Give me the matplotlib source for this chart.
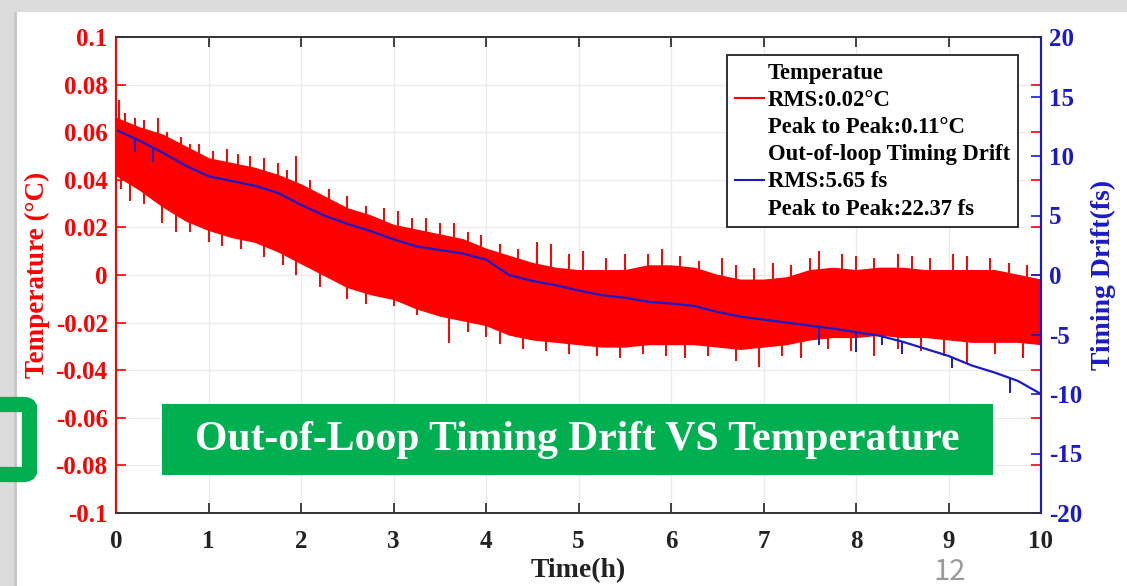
import numpy as np
import matplotlib.pyplot as plt
from matplotlib.lines import Line2D
from matplotlib.patches import Rectangle, FancyBboxPatch

plt.rcParams['font.family'] = ['Liberation Serif', 'DejaVu Serif']
plt.rcParams['font.weight'] = 'bold'
plt.rcParams['axes.unicode_minus'] = False

# time grid (h), read every 0.25 h
time_h = [0, 0.25, 0.5, 0.75, 1, 1.25, 1.5, 1.75, 2, 2.25, 2.5, 2.75, 3, 3.25,
          3.5, 3.75, 4, 4.25, 4.5, 4.75, 5, 5.25, 5.5, 5.75, 6, 6.25, 6.5, 6.75,
          7, 7.25, 7.5, 7.75, 8, 8.25, 8.5, 8.75, 9, 9.25, 9.5, 9.75, 10]

# temperature noise band (upper / lower edge, degC)
temp_upper = [0.066, 0.062, 0.059, 0.054, 0.049, 0.047, 0.045, 0.042, 0.038, 0.033,
              0.028, 0.025, 0.021, 0.019, 0.017, 0.015, 0.011, 0.008, 0.005, 0.003,
              0.002, 0.002, 0.002, 0.004, 0.004, 0.003, 0.000, -0.002, -0.002, -0.001,
              0.002, 0.003, 0.002, 0.003, 0.003, 0.002, 0.002, 0.002, 0.002, 0.000, -0.002]
temp_lower = [0.042, 0.036, 0.029, 0.023, 0.019, 0.016, 0.014, 0.010, 0.005, 0.000,
              -0.005, -0.008, -0.010, -0.014, -0.017, -0.019, -0.021, -0.025, -0.027, -0.028,
              -0.029, -0.030, -0.030, -0.029, -0.029, -0.029, -0.030, -0.031, -0.030, -0.029,
              -0.027, -0.026, -0.026, -0.025, -0.026, -0.026, -0.027, -0.028, -0.028, -0.028, -0.029]

# visible spikes of the temperature trace (time h, tip degC)
spike_up_t = [0.03, 0.1, 0.2, 0.3, 0.45, 0.55, 0.7, 0.8, 0.9, 1.05, 1.2, 1.32, 1.45, 1.6,
              1.75, 1.85, 1.95, 2.1, 2.3, 2.5, 2.7, 2.9, 3.05, 3.2, 3.35, 3.5, 3.65, 3.8,
              3.95, 4.15, 4.35, 4.55, 4.7, 4.9, 5.05, 5.3, 5.5, 5.75, 5.9, 6.1, 6.3, 6.55,
              6.7, 6.9, 7.1, 7.3, 7.5, 7.6, 7.85, 8.0, 8.2, 8.45, 8.6, 8.8, 9.05, 9.2,
              9.45, 9.65, 9.85]
spike_up_v = [0.0735, 0.068, 0.066, 0.065, 0.066, 0.060, 0.058, 0.055, 0.055, 0.052, 0.053,
              0.051, 0.050, 0.049, 0.047, 0.044, 0.050, 0.040, 0.036, 0.033, 0.029, 0.028,
              0.027, 0.024, 0.024, 0.022, 0.022, 0.018, 0.017, 0.013, 0.011, 0.014, 0.013,
              0.009, 0.010, 0.007, 0.009, 0.009, 0.011, 0.008, 0.006, 0.007, 0.004, 0.003,
              0.005, 0.004, 0.007, 0.010, 0.009, 0.008, 0.007, 0.009, 0.008, 0.007, 0.009,
              0.008, 0.007, 0.005, 0.004]
spike_dn_t = [0.05, 0.15, 0.3, 0.5, 0.65, 0.8, 1.0, 1.15, 1.35, 1.6, 1.8, 1.95, 2.2, 2.5,
              2.7, 3.0, 3.25, 3.6, 3.8, 4.0, 4.15, 4.4, 4.65, 4.9, 5.2, 5.45, 5.7, 5.95,
              6.15, 6.4, 6.7, 6.95, 7.2, 7.4, 7.7, 7.95, 8.2, 8.45, 8.7, 8.95, 9.2, 9.5, 9.8]
spike_dn_v = [0.036, 0.031, 0.030, 0.022, 0.018, 0.018, 0.014, 0.012, 0.011, 0.0075, 0.004,
              0.000, -0.005, -0.010, -0.012, -0.013, -0.017, -0.0285, -0.024, -0.026, -0.029,
              -0.031, -0.032, -0.033, -0.034, -0.035, -0.033, -0.034, -0.035, -0.034, -0.036,
              -0.0385, -0.034, -0.035, -0.031, -0.032, -0.034, -0.031, -0.032, -0.034, -0.037,
              -0.033, -0.035]

# out-of-loop timing drift (fs)
drift_fs = [12.2, 11.3, 10.3, 9.2, 8.3, 7.9, 7.5, 6.9, 5.9, 5.0, 4.3, 3.7, 3.0, 2.4,
            2.1, 1.8, 1.3, 0.0, -0.5, -0.85, -1.3, -1.7, -1.9, -2.25, -2.4, -2.6, -3.1, -3.5,
            -3.75, -4.0, -4.25, -4.5, -4.8, -5.1, -5.6, -6.2, -6.8, -7.6, -8.2, -8.9, -10.0]
drift_spike_t = [0.2, 0.4, 7.6, 8.0, 8.28, 8.5, 9.04, 9.67]
drift_spike_v = [10.3, 9.5, -5.9, -6.5, -5.9, -6.6, -7.8, -9.9]

red = '#ff0000'
blue = '#1a1ac8'

fig = plt.figure(figsize=(11.27, 5.86), dpi=100)
fig.patch.set_facecolor('#dcdcdc')
fig.add_artist(Rectangle((17 / 1127, 0), 1, 1 - 12 / 586, transform=fig.transFigure,
                         facecolor='white', edgecolor='none', zorder=-2))
fig.add_artist(Rectangle((14 / 1127, 0), 3 / 1127, 1 - 12 / 586, transform=fig.transFigure,
                         facecolor='#c8c8c8', edgecolor='none', zorder=-2))

ax = fig.add_axes([116 / 1127, 73 / 586, 925 / 1127, 476 / 586])
ax2 = ax.twinx()

ax.fill_between(time_h, temp_lower, temp_upper, color=red, lw=1.0, zorder=2)
ax.vlines(spike_up_t, np.interp(spike_up_t, time_h, temp_upper) - 0.003, spike_up_v,
          color=red, lw=1.4, zorder=2)
ax.vlines(spike_dn_t, spike_dn_v, np.interp(spike_dn_t, time_h, temp_lower) + 0.003,
          color=red, lw=1.4, zorder=2)

ax2.plot(time_h, drift_fs, color=blue, lw=1.6)
ax2.vlines(drift_spike_t, drift_spike_v, np.interp(drift_spike_t, time_h, drift_fs),
           color=blue, lw=1.4)

ax.set_xlim(0, 10)
ax.set_ylim(-0.1, 0.1)
ax2.set_ylim(-20, 20)
ax.set_xticks(range(0, 11))
ax.set_yticks([-0.1, -0.08, -0.06, -0.04, -0.02, 0, 0.02, 0.04, 0.06, 0.08, 0.1])
ax.set_yticklabels(['-0.1', '-0.08', '-0.06', '-0.04', '-0.02', '0', '0.02', '0.04',
                    '0.06', '0.08', '0.1'])
ax2.set_yticks(range(-20, 21, 5))

ax.grid(True, color='#efe9e9', lw=0.9)
ax.set_axisbelow(True)

ax.tick_params(axis='x', direction='in', top=True, length=7, width=1.2, colors='#222222',
               labelsize=18, pad=12)
ax.tick_params(axis='y', direction='in', right=True, length=7, width=1.2, colors=red,
               labelsize=18, pad=6)
ax2.tick_params(axis='y', direction='in', length=7, width=1.2, colors=blue,
                labelsize=18, pad=6)

for a in (ax, ax2):
    a.spines['top'].set_color('#333333')
    a.spines['bottom'].set_color('#333333')
    a.spines['top'].set_linewidth(1.2)
    a.spines['bottom'].set_linewidth(1.2)
    a.spines['left'].set_color(red)
    a.spines['left'].set_linewidth(1.5)
    a.spines['right'].set_color(blue)
    a.spines['right'].set_linewidth(1.5)

ax.set_xlabel('Time(h)', fontsize=20, fontweight='bold', color='#222222', labelpad=4)
ax.set_ylabel('Temperature (°C)', fontsize=19.5, fontweight='bold', color=red, labelpad=4)
ax2.set_ylabel('Timing Drift(fs)', fontsize=20, fontweight='bold', color=blue, labelpad=6)

none = dict(color='none')
handles = [Line2D([], [], **none), Line2D([], [], color=red, lw=1.5), Line2D([], [], **none),
           Line2D([], [], **none), Line2D([], [], color=blue, lw=1.5), Line2D([], [], **none)]
labels = ['Temperatue', 'RMS:0.02°C', 'Peak to Peak:0.11°C',
          'Out-of-loop Timing Drift', 'RMS:5.65 fs', 'Peak to Peak:22.37 fs']
leg = ax2.legend(handles, labels, loc='upper right', bbox_to_anchor=(0.975, 0.962),
                 prop={'size': 16.3, 'weight': 'bold'}, frameon=True, fancybox=False,
                 framealpha=1, edgecolor='#222222', handlelength=1.3, handletextpad=0.15,
                 labelspacing=0.27, borderpad=0.35, borderaxespad=0)
leg.get_frame().set_linewidth(1.3)

# slide decorations
fig.add_artist(Rectangle((162 / 1127, 1 - 475 / 586), 831 / 1127, 71 / 586,
                         transform=fig.transFigure, facecolor='#00af50', edgecolor='none', zorder=5))
fig.text(577 / 1127, 1 - 440 / 586, 'Out-of-Loop Timing Drift VS Temperature', color='white',
         fontsize=30, fontweight='bold', ha='center', va='center', zorder=6)
fig.add_artist(FancyBboxPatch((-30 / 1127, 1 - 474.5 / 586), 59.5 / 1127, 70 / 586,
                              boxstyle='round,pad=0,rounding_size=0.006',
                              transform=fig.transFigure, facecolor='none',
                              edgecolor='#00af50', lw=11, zorder=5))
fig.text(950 / 1127, 1 - 572 / 586, '12', color='#9a9a9a', fontsize=21,
         family=['Noto Sans CJK SC', 'DejaVu Sans'], fontweight='light', ha='center', va='center')

fig.savefig('out.png', dpi=100, facecolor=fig.get_facecolor())
